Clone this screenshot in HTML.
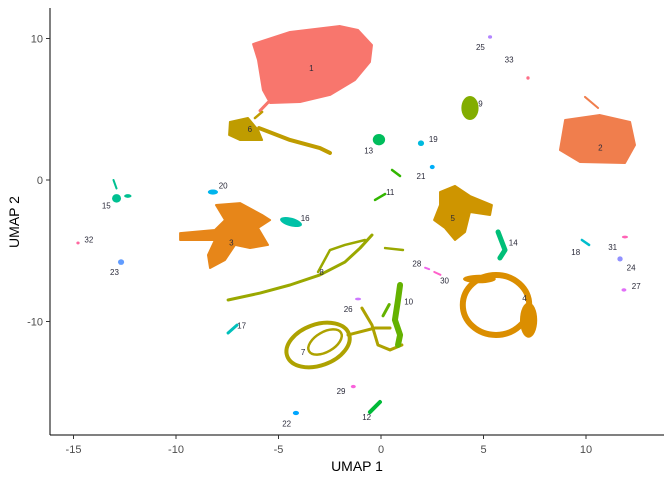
<!DOCTYPE html>
<html><head><meta charset="utf-8"><style>
body{margin:0;background:#fff}
svg{display:block;font-family:"Liberation Sans",sans-serif}
</style></head><body>
<svg id="chart" width="672" height="480" viewBox="0 0 672 480" xmlns="http://www.w3.org/2000/svg">
<g id="marks"></g>
<g id="labels"></g>
<g id="axes"></g>
</svg>
<script>
const xTicks=[-15,-10,-5,0,5,10];
const yTicks=[-10,0,10];
const clusterIds=[1,2,3,4,5,6,7,8,9,10,11,12,13,14,15,16,17,18,19,20,21,22,23,24,25,26,27,28,29,30,31,32,33];
const labelX=[-3.4,10.7,-7.3,7.0,3.5,-6.4,-3.8,-2.9,4.85,1.35,0.45,-0.7,-0.6,6.45,-13.4,-3.7,-6.8,9.5,2.55,-7.7,1.95,-4.6,-13.0,12.2,4.85,-1.6,12.45,1.75,-1.95,3.1,11.3,-14.25,6.25];
const labelY=[7.9,2.3,-4.4,-8.35,-2.7,3.6,-12.15,-6.5,5.4,-8.6,-0.85,-16.75,2.1,-4.4,-1.8,-2.7,-10.3,-5.1,2.9,-0.4,0.3,-17.2,-6.5,-6.2,9.4,-9.1,-7.5,-5.9,-14.9,-7.1,-4.75,-4.2,8.5];
const shapes=[
 {c:1,k:"poly",p:[[-6.24,9.61],[-4.44,10.46],[-2.0,10.88],[-1.12,10.6],[-0.44,9.54],[-0.54,8.34],[-1.27,7.07],[-2.49,6.01],[-3.95,5.51],[-5.41,5.44],[-5.76,6.36],[-6.0,8.48]]},
 {c:1,k:"line",w:3,p:[[-5.5,5.5],[-5.9,4.9]]},
 {c:2,k:"poly",p:[[8.98,4.24],[10.68,4.59],[12.15,4.1],[12.39,2.47],[11.9,1.2],[9.71,1.27],[8.73,2.12]]},
 {c:2,k:"line",w:2,p:[[9.95,5.87],[10.59,5.09]]},
 {c:3,k:"poly",p:[[-8.05,-1.77],[-6.88,-1.63],[-5.8,-2.47],[-5.41,-2.83],[-6.0,-3.39],[-5.51,-4.59],[-6.39,-4.81],[-7.12,-4.59],[-7.61,-5.65],[-8.34,-6.22],[-8.44,-5.3],[-8.1,-4.24],[-9.8,-4.24],[-9.8,-3.75],[-8.1,-3.53],[-7.61,-2.83]]},
 {c:4,k:"ring",x:5.61,y:-8.83,rx:1.62,ry:2.12,w:6,r:0},
 {c:4,k:"ell",x:7.2,y:-9.9,rx:0.42,ry:1.25,r:0},
 {c:4,k:"ell",x:4.8,y:-7.0,rx:0.8,ry:0.3,r:0},
 {c:5,k:"poly",p:[[2.88,-0.85],[3.61,-0.42],[4.34,-1.13],[5.41,-1.77],[5.32,-2.47],[4.34,-2.26],[4.1,-3.67],[3.61,-4.24],[3.12,-3.39],[2.59,-2.83],[2.88,-1.77]]},
 {c:6,k:"poly",p:[[-7.37,4.1],[-6.49,4.38],[-6.0,3.53],[-5.8,2.83],[-6.88,2.83],[-7.41,3.18]]},
 {c:6,k:"line",w:4,p:[[-5.95,3.67],[-4.44,2.83],[-2.98,2.26],[-2.49,1.91]]},
 {c:6,k:"line",w:2.5,p:[[-6.15,4.38],[-5.8,4.81]]},
 {c:7,k:"ring",x:-3.07,y:-11.66,rx:1.6,ry:1.45,w:4,r:-20},
 {c:7,k:"ring",x:-2.73,y:-11.45,rx:0.9,ry:0.7,w:2.5,r:-30},
 {c:7,k:"line",w:3,p:[[-1.61,-10.95],[-0.29,-10.46],[0.44,-10.46]]},
 {c:7,k:"line",w:3,p:[[-0.93,-9.05],[-0.44,-10.25],[-0.15,-11.66],[0.44,-12.01],[1.02,-11.66]]},
 {c:8,k:"line",w:3,p:[[-7.46,-8.48],[-5.9,-7.99],[-4.44,-7.42],[-2.98,-6.71],[-1.76,-5.8],[-1.02,-4.81],[-0.44,-3.89]]},
 {c:8,k:"line",w:2.5,p:[[-3.07,-6.5],[-2.49,-4.95],[-1.76,-4.59],[-0.78,-4.24]]},
 {c:8,k:"line",w:2.5,p:[[0.2,-4.81],[1.07,-4.95]]},
 {c:9,k:"ell",x:4.34,y:5.09,rx:0.42,ry:0.85,r:0},
 {c:10,k:"line",w:6,p:[[0.93,-7.42],[0.83,-8.48],[0.68,-9.89],[0.93,-10.95],[0.83,-11.66]]},
 {c:10,k:"line",w:3,p:[[0.4,-8.8],[0.1,-9.6]]},
 {c:11,k:"line",w:2.5,p:[[-0.29,-1.41],[0.2,-0.99]]},
 {c:11,k:"line",w:2.5,p:[[0.54,0.71],[0.93,0.28]]},
 {c:12,k:"line",w:4,p:[[-0.54,-16.4],[-0.05,-15.69]]},
 {c:13,k:"ell",x:-0.1,y:2.85,rx:0.3,ry:0.4,r:0},
 {c:14,k:"line",w:5,p:[[5.71,-3.67],[6.05,-4.95],[5.8,-5.51]]},
 {c:15,k:"ell",x:-12.9,y:-1.3,rx:0.22,ry:0.3,r:0},
 {c:15,k:"ell",x:-12.35,y:-1.13,rx:0.18,ry:0.13,r:0},
 {c:15,k:"line",w:2,p:[[-13.05,0.0],[-12.9,-0.6]]},
 {c:16,k:"ell",x:-4.39,y:-2.97,rx:0.55,ry:0.3,r:15},
 {c:17,k:"line",w:3,p:[[-7.46,-10.81],[-7.02,-10.25]]},
 {c:18,k:"line",w:2.5,p:[[9.8,-4.24],[10.15,-4.59]]},
 {c:19,k:"ell",x:1.95,y:2.6,rx:0.15,ry:0.2,r:0},
 {c:20,k:"ell",x:-8.2,y:-0.85,rx:0.25,ry:0.18,r:0},
 {c:21,k:"ell",x:2.5,y:0.92,rx:0.12,ry:0.15,r:0},
 {c:22,k:"ell",x:-4.15,y:-16.47,rx:0.15,ry:0.15,r:0},
 {c:23,k:"ell",x:-12.68,y:-5.8,rx:0.15,ry:0.2,r:0},
 {c:24,k:"ell",x:11.66,y:-5.58,rx:0.13,ry:0.18,r:0},
 {c:25,k:"ell",x:5.32,y:10.11,rx:0.1,ry:0.12,r:0},
 {c:26,k:"ell",x:-1.12,y:-8.41,rx:0.15,ry:0.1,r:0},
 {c:27,k:"ell",x:11.85,y:-7.77,rx:0.12,ry:0.12,r:0},
 {c:28,k:"line",w:2,p:[[2.15,-6.2],[2.35,-6.3]]},
 {c:29,k:"ell",x:-1.35,y:-14.6,rx:0.12,ry:0.12,r:0},
 {c:30,k:"line",w:2,p:[[2.6,-6.5],[2.9,-6.7]]},
 {c:31,k:"ell",x:11.9,y:-4.03,rx:0.15,ry:0.1,r:0},
 {c:32,k:"ell",x:-14.78,y:-4.45,rx:0.08,ry:0.1,r:0},
 {c:33,k:"ell",x:7.17,y:7.21,rx:0.08,ry:0.12,r:0}
];
</script>
<script>
const NS="http://www.w3.org/2000/svg";
const X0=381,XS=20.5,Y0=180,YS=14.15;
function sx(v){return X0+XS*v;}
function sy(v){return Y0-YS*v;}
function hcl(h){const L=65,C=100,r=h*Math.PI/180;const u=C*Math.cos(r),v=C*Math.sin(r);
 const Xn=0.95047,Yn=1,Zn=1.08883,d=Xn+15*Yn+3*Zn,un=4*Xn/d,vn=9*Yn/d;
 const Y=Math.pow((L+16)/116,3),up=u/(13*L)+un,vp=v/(13*L)+vn;
 const X=Y*9*up/(4*vp),Z=Y*(12-3*up-20*vp)/(4*vp);
 let rgb=[3.2404542*X-1.5371385*Y-0.4985314*Z,-0.969266*X+1.8760108*Y+0.041556*Z,0.0556434*X-0.2040259*Y+1.0572252*Z];
 rgb=rgb.map(c=>{c=c<=0.0031308?12.92*c:1.055*Math.pow(c,1/2.4)-0.055;return Math.round(Math.max(0,Math.min(1,c))*255);});
 return "rgb("+rgb.join(",")+")";}
const n=clusterIds.length;
function col(c){return hcl(15+360*(c-1)/n);}
const marks=document.getElementById("marks");
shapes.forEach(s=>{
 let el;
 const fill=col(s.c);
 if(s.k==="poly"){el=document.createElementNS(NS,"polygon");
  el.setAttribute("points",s.p.map(q=>sx(q[0])+","+sy(q[1])).join(" "));
  el.setAttribute("fill",fill);el.setAttribute("stroke",fill);el.setAttribute("stroke-width","2");el.setAttribute("stroke-linejoin","round");}
 else if(s.k==="line"){el=document.createElementNS(NS,"polyline");
  el.setAttribute("points",s.p.map(q=>sx(q[0])+","+sy(q[1])).join(" "));
  el.setAttribute("fill","none");el.setAttribute("stroke",fill);el.setAttribute("stroke-width",s.w);el.setAttribute("stroke-linecap","round");el.setAttribute("stroke-linejoin","round");}
 else {el=document.createElementNS(NS,"ellipse");
  el.setAttribute("cx",sx(s.x));el.setAttribute("cy",sy(s.y));el.setAttribute("rx",s.rx*XS);el.setAttribute("ry",s.ry*YS);
  el.setAttribute("transform","rotate("+s.r+" "+sx(s.x)+" "+sy(s.y)+")");
  if(s.k==="ring"){el.setAttribute("fill","none");el.setAttribute("stroke",fill);el.setAttribute("stroke-width",s.w);}
  else el.setAttribute("fill",fill);}
 
 
 marks.appendChild(el);
});
const labels=document.getElementById("labels");
clusterIds.forEach((c,i)=>{
 const t=document.createElementNS(NS,"text");
 t.setAttribute("x",sx(labelX[i]));t.setAttribute("y",sy(labelY[i])+3);
 t.setAttribute("text-anchor","middle");t.setAttribute("font-size","8");t.setAttribute("fill","#2a2a3a");
 t.textContent=c;
 
 
 labels.appendChild(t);
});
const axes=document.getElementById("axes");
function mk(tag,attrs,txt){const e=document.createElementNS(NS,tag);for(const k in attrs)e.setAttribute(k,attrs[k]);if(txt!==undefined)e.textContent=txt;axes.appendChild(e);return e;}
let e=mk("line",{x1:50,y1:8,x2:50,y2:435,stroke:"#000","stroke-width":1});


e=mk("line",{x1:50,y1:435,x2:664,y2:435,stroke:"#000","stroke-width":1});


xTicks.forEach(v=>{
 e=mk("line",{x1:sx(v),y1:435,x2:sx(v),y2:439,stroke:"#333"});
 
 
 e=mk("text",{x:sx(v),y:453,"text-anchor":"middle","font-size":"11",fill:"#4d4d4d"},String(v));
 
 
});
yTicks.forEach(v=>{
 e=mk("line",{x1:46,y1:sy(v),x2:50,y2:sy(v),stroke:"#333"});
 
 
 e=mk("text",{x:43,y:sy(v)+4,"text-anchor":"end","font-size":"11",fill:"#4d4d4d"},String(v));
 
 
});
e=mk("text",{x:357,y:471,"text-anchor":"middle","font-size":"14",fill:"#000"},"UMAP 1");


e=mk("text",{x:0,y:0,"text-anchor":"middle","font-size":"14",fill:"#000",transform:"translate(19,222) rotate(-90)"},"UMAP 2");


</script>
</body></html>
